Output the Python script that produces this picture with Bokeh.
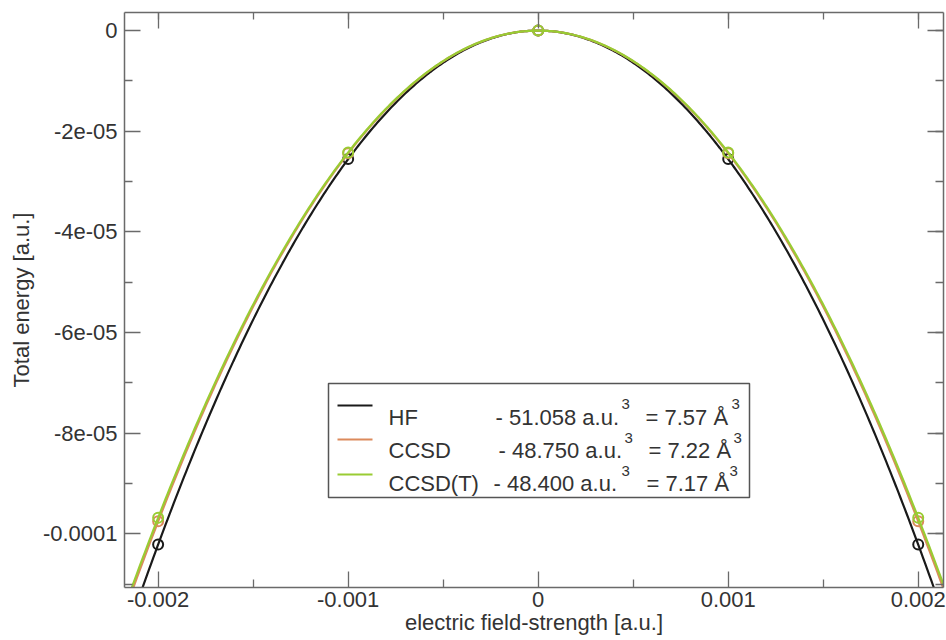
import numpy as np
from bokeh.plotting import figure
from bokeh.models import (Range1d, LinearAxis, FixedTicker, SingleIntervalTicker,
                          CustomJSTickFormatter)
from bokeh.core.properties import value
from bokeh.embed import file_html
from bokeh.resources import INLINE

# Field strengths [a.u.] and total energies relative to the field-free energy [a.u.]
field = [-0.002, -0.001, 0.0, 0.001, 0.002]
energy_hf = [-1.02116e-4, -2.5529e-5, 0.0, -2.5529e-5, -1.02116e-4]
energy_ccsd = [-9.7500e-5, -2.4375e-5, 0.0, -2.4375e-5, -9.7500e-5]
energy_ccsdt = [-9.6800e-5, -2.4200e-5, 0.0, -2.4200e-5, -9.6800e-5]

methods = ["HF", "CCSD", "CCSD(T)"]
polarizability_au = [51.058, 48.750, 48.400]
polarizability_ang = [7.57, 7.22, 7.17]
colors = ["#1a1a1a", "#dc8a5c", "#99cc33"]

x_tick_values = [-0.002, -0.001, 0.0, 0.001, 0.002]
x_tick_labels = ["-0.002", "-0.001", "0", "0.001", "0.002"]
x_minor_ticks = [-0.0015, -0.0005, 0.0005, 0.0015]
y_tick_values = [0.0, -2e-5, -4e-5, -6e-5, -8e-5, -1e-4]
y_tick_labels = ["0", "-2e-05", "-4e-05", "-6e-05", "-8e-05", "-0.0001"]
y_minor_ticks = [-1e-5, -3e-5, -5e-5, -7e-5, -9e-5, -1.1e-4]

FONT = "Liberation Sans"
AXIS_COLOR = "#6a6a6a"
TEXT_COLOR = "#333333"

# Canvas geometry (pixels)
W, H = 946, 640
B_LEFT, B_RIGHT, B_TOP, B_BOTTOM = 124, 3, 12, 53
FRAME_W = W - B_LEFT - B_RIGHT
FRAME_H = H - B_TOP - B_BOTTOM

x_lo, x_hi = -0.002177, 0.002133
y_lo, y_hi = -1.1064e-4, 3.6e-6
PX_X = (x_hi - x_lo) / FRAME_W
PX_Y = (y_hi - y_lo) / FRAME_H


def px_x(sx):
    """Canvas pixel column -> field value."""
    return x_lo + (sx - B_LEFT) * PX_X


def px_y(sy):
    """Canvas pixel row (from top) -> energy value."""
    return y_hi - (sy - B_TOP) * PX_Y


p = figure(width=W, height=H, output_backend="svg", toolbar_location=None,
           x_range=Range1d(x_lo, x_hi), y_range=Range1d(y_lo, y_hi),
           x_axis_type=None, y_axis_type=None,
           min_border_left=B_LEFT, min_border_right=B_RIGHT,
           min_border_top=B_TOP, min_border_bottom=B_BOTTOM)
p.xgrid.visible = False
p.ygrid.visible = False
p.outline_line_color = None
p.background_fill_color = "white"
p.border_fill_color = "white"

js = """
let best = 0;
for (let k = 1; k < tick_vals.length; k++) {
  if (Math.abs(tick_vals[k] - tick) < Math.abs(tick_vals[best] - tick)) best = k;
}
return Math.abs(tick_vals[best] - tick) < 1e-9 ? tick_text[best] : "";
"""
x_fmt = CustomJSTickFormatter(args=dict(tick_vals=x_tick_values, tick_text=x_tick_labels), code=js)
y_fmt = CustomJSTickFormatter(args=dict(tick_vals=y_tick_values, tick_text=y_tick_labels), code=js)


def style_axis(ax, labelled=True):
    ax.axis_line_color = AXIS_COLOR
    ax.axis_line_width = 1.5
    ax.major_tick_line_color = AXIS_COLOR
    ax.minor_tick_line_color = AXIS_COLOR
    ax.major_tick_line_width = 1.3
    ax.minor_tick_line_width = 1.3
    ax.major_tick_in = 16
    ax.major_tick_out = 0
    ax.minor_tick_in = 8
    ax.minor_tick_out = 0
    if labelled:
        ax.major_label_text_font = FONT
        ax.major_label_text_font_size = "22px"
        ax.major_label_text_color = TEXT_COLOR
        ax.axis_label_text_font = FONT
        ax.axis_label_text_font_size = "22px"
        ax.axis_label_text_font_style = "normal"
        ax.axis_label_text_color = TEXT_COLOR
    else:
        # tick marks only on the opposite edges
        ax.major_label_text_font_size = "0px"
        ax.major_label_standoff = 0


xb = LinearAxis(ticker=FixedTicker(ticks=x_tick_values, minor_ticks=x_minor_ticks),
                formatter=x_fmt, axis_label="electric field-strength [a.u.]")
style_axis(xb)
xb.major_label_standoff = 4
xb.axis_label_standoff = 0
p.add_layout(xb, "below")

yl = LinearAxis(ticker=FixedTicker(ticks=y_tick_values, minor_ticks=y_minor_ticks),
                formatter=y_fmt, axis_label="Total energy [a.u.]")
style_axis(yl)
yl.major_label_standoff = 7
yl.axis_label_standoff = 6
p.add_layout(yl, "left")

xt = LinearAxis(ticker=SingleIntervalTicker(interval=0.001, num_minor_ticks=2))
style_axis(xt, labelled=False)
xt.minor_tick_in = 7
p.add_layout(xt, "above")

yr = LinearAxis(ticker=SingleIntervalTicker(interval=2e-5, num_minor_ticks=2))
style_axis(yr, labelled=False)
p.add_layout(yr, "right")

# Quadratic Stark curves E(F) = -alpha F^2 / 2 for each method's polarizability
f_curve = np.linspace(x_lo, x_hi, 400)
energies = [energy_hf, energy_ccsd, energy_ccsdt]
for alpha, col, e in zip(polarizability_au, colors, energies):
    p.line(f_curve, -0.5 * alpha * f_curve ** 2, line_color=col, line_width=2.2)
    p.scatter(field, e, marker="circle", size=10, fill_color=None, line_color=col, line_width=2)

# Legend box with the polarizabilities (canvas pixel layout)
p.quad(left=px_x(328), right=px_x(749), top=px_y(383), bottom=px_y(497),
       fill_color="white", line_color="#555555", line_width=1.5)

line_rows = [405, 439, 474]
base_rows = [417, 450, 483]
sup_rows = [403, 437, 470]
val_cols = [495, 498, 493]
sup1_cols = [621, 624, 621]
eq_cols = [645, 648, 646]
sup2_cols = [731, 733, 729]

p.segment(x0=[px_x(337)] * 3, x1=[px_x(372)] * 3,
          y0=[px_y(r) for r in line_rows], y1=[px_y(r) for r in line_rows],
          line_color=colors, line_width=2.2)

txt = dict(text_font=value(FONT), text_color=TEXT_COLOR, text_baseline="alphabetic",
           text_align="left")
p.text(x=[px_x(388)] * 3, y=[px_y(r) for r in base_rows], text=methods,
       text_font_size=value("22px"), **txt)
p.text(x=[px_x(c) for c in val_cols], y=[px_y(r) for r in base_rows],
       text=[f"- {a:.3f} a.u." for a in polarizability_au],
       text_font_size=value("22px"), **txt)
p.text(x=[px_x(c) for c in eq_cols], y=[px_y(r) for r in base_rows],
       text=[f"= {b:.2f} Å" for b in polarizability_ang],
       text_font_size=value("22px"), **txt)
p.text(x=[px_x(c) for c in sup1_cols + sup2_cols], y=[px_y(r) for r in sup_rows + sup_rows],
       text=["3"] * 6, text_font_size=value("15px"), **txt)

open("out.html", "w").write(file_html(p, INLINE))
